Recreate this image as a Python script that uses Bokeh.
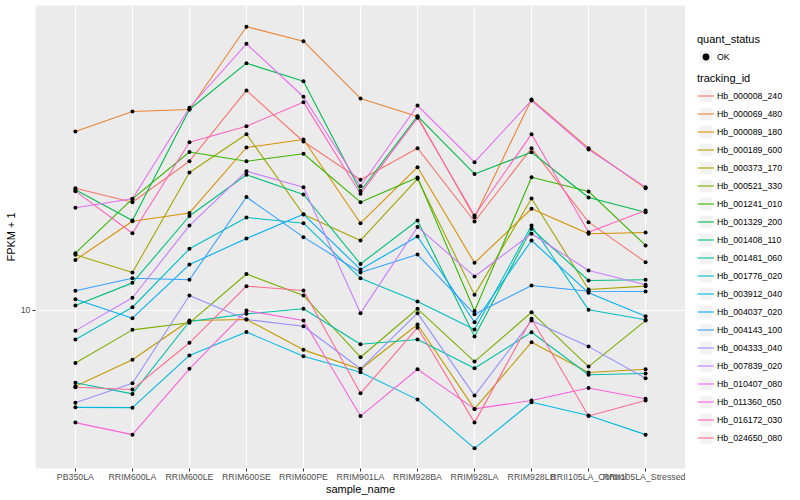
from bokeh.plotting import figure
from bokeh.layouts import row
from bokeh.models import (FactorRange, Range1d, FixedTicker, BasicTickFormatter,
                          Legend, LegendItem)
from bokeh.embed import file_html
from bokeh.resources import INLINE

samples = ["PB350LA", "RRIM600LA", "RRIM600LE", "RRIM600SE", "RRIM600PE",
           "RRIM901LA", "RRIM928BA", "RRIM928LA", "RRIM928LB",
           "RRII105LA_Control", "RRII105LA_Stressed"]

tracking_ids = ["Hb_000008_240", "Hb_000069_480", "Hb_000089_180", "Hb_000189_600",
                "Hb_000373_170", "Hb_000521_330", "Hb_001241_010", "Hb_001329_200",
                "Hb_001408_110", "Hb_001481_060", "Hb_001776_020", "Hb_003912_040",
                "Hb_004037_020", "Hb_004143_100", "Hb_004333_040", "Hb_007839_020",
                "Hb_010407_080", "Hb_011360_050", "Hb_016172_030", "Hb_024650_080"]

hb_000008_240 = [20.16, 18.60, 23.55, 35.39, 26.38, 21.16, 25.38, 16.64, 25.38, 16.58, 13.17]
hb_000069_480 = [27.95, 31.36, 31.72, 51.05, 46.99, 33.80, 30.46, 17.06, 33.60, 25.38, 20.16]
hb_000089_180 = [13.34, 16.67, 17.48, 25.48, 26.68, 16.48, 22.75, 13.12, 17.91, 15.51, 15.62]
hb_000189_600 = [6.45, 7.51, 9.41, 9.47, 7.95, 7.11, 9.20, 5.66, 8.31, 6.98, 7.11]
hb_000373_170 = [13.74, 12.41, 22.07, 27.51, 17.33, 14.92, 21.28, 10.91, 19.00, 11.25, 11.47]
hb_000521_330 = [7.37, 8.92, 9.29, 12.30, 10.87, 7.62, 10.07, 7.43, 9.87, 7.22, 9.41]
hb_001241_010 = [13.87, 18.95, 24.83, 23.55, 24.58, 18.60, 21.44, 9.94, 21.48, 19.78, 14.50]
hb_001329_200 = [19.98, 16.74, 31.71, 41.40, 37.33, 19.84, 30.51, 21.88, 24.80, 19.11, 17.56]
hb_001408_110 = [10.26, 11.69, 17.18, 21.78, 19.44, 13.03, 16.74, 8.59, 15.96, 11.85, 11.90]
hb_001481_060 = [6.58, 6.17, 9.36, 9.78, 10.07, 8.21, 8.44, 7.15, 8.80, 6.89, 6.94]
hb_001776_020 = [8.44, 10.16, 14.22, 17.03, 16.48, 12.01, 10.50, 8.94, 16.26, 10.01, 9.45]
hb_003912_040 = [5.71, 5.70, 7.70, 8.81, 7.66, 6.99, 5.97, 4.51, 5.88, 5.45, 4.88]
hb_004037_020 = [10.64, 9.54, 12.99, 15.09, 17.35, 12.63, 15.27, 9.32, 14.92, 11.04, 9.65]
hb_004143_100 = [11.17, 12.01, 11.90, 19.16, 15.21, 12.41, 13.76, 9.76, 11.51, 11.14, 11.12]
hb_004333_040 = [5.86, 6.56, 10.87, 9.47, 9.11, 7.13, 9.82, 6.11, 9.41, 8.10, 6.75]
hb_007839_020 = [8.88, 10.73, 16.26, 22.23, 20.28, 9.82, 16.13, 12.13, 15.51, 12.55, 11.56]
hb_010407_080 = [18.01, 18.97, 32.03, 46.29, 34.12, 20.39, 32.45, 23.42, 33.40, 25.19, 20.28]
hb_011360_050 = [5.23, 4.88, 7.13, 9.97, 9.41, 5.43, 7.11, 5.66, 5.94, 6.38, 6.00]
hb_016172_030 = [19.82, 15.56, 26.27, 28.81, 33.08, 19.52, 30.23, 17.23, 27.51, 15.65, 17.73]
hb_024650_080 = [6.41, 6.33, 8.28, 11.47, 11.19, 6.19, 9.03, 5.23, 9.51, 5.43, 5.94]

series_values = [hb_000008_240, hb_000069_480, hb_000089_180, hb_000189_600,
                 hb_000373_170, hb_000521_330, hb_001241_010, hb_001329_200,
                 hb_001408_110, hb_001481_060, hb_001776_020, hb_003912_040,
                 hb_004037_020, hb_004143_100, hb_004333_040, hb_007839_020,
                 hb_010407_080, hb_011360_050, hb_016172_030, hb_024650_080]

palette = ["#F8766D", "#EA8331", "#D89000", "#C09B00", "#A3A500", "#7CAE00",
           "#39B600", "#00BB4E", "#00BF7D", "#00C1A3", "#00BFC4", "#00BAE0",
           "#00B0F6", "#35A2FF", "#9590FF", "#C77CFF", "#E76BF3", "#FA62DB",
           "#FF62BC", "#FF6C91"]

quant_status = ["OK"]
y_ticks = [10]
y_limits = (4.016, 57.70)

FONT = "Liberation Sans"

# ---------------- main panel ----------------
p = figure(width=685, height=500,
           x_range=FactorRange(factors=samples, range_padding=0.2,
                               range_padding_units="absolute"),
           y_axis_type="log", y_range=Range1d(*y_limits),
           output_backend="svg", toolbar_location=None,
           min_border_left=35, min_border_right=0,
           min_border_top=5, min_border_bottom=32)
p.background_fill_color = "#EBEBEB"
p.border_fill_color = "white"
p.outline_line_color = None

for vals, col in zip(series_values, palette):
    p.line(x=samples, y=vals, line_color=col, line_width=1.1)

all_x = [s for vals in series_values for s in samples]
all_y = [v for vals in series_values for v in vals]
p.scatter(x=all_x, y=all_y, size=4, marker="circle",
          fill_color="black", line_color=None)

p.xaxis.axis_label = "sample_name"
p.yaxis.axis_label = "FPKM + 1"
for ax in (p.xaxis[0], p.yaxis[0]):
    ax.axis_line_color = None
    ax.major_tick_line_color = "#333333"
    ax.major_tick_out = 3
    ax.major_tick_in = 0
    ax.minor_tick_line_color = None
    ax.major_label_text_font = FONT
    ax.major_label_text_font_size = "8.8px"
    ax.major_label_text_color = "#4D4D4D"
    ax.axis_label_text_font = FONT
    ax.axis_label_text_font_size = "11px"
    ax.axis_label_text_font_style = "normal"
    ax.axis_label_text_color = "black"
p.xaxis.major_label_standoff = 0
p.xaxis.axis_label_standoff = -2
p.yaxis.major_label_standoff = 2
p.yaxis.axis_label_standoff = 1
p.yaxis.ticker = FixedTicker(ticks=y_ticks, minor_ticks=[])
p.yaxis.formatter = BasicTickFormatter()

p.xgrid.grid_line_color = "white"
p.xgrid.grid_line_width = 1.1
p.ygrid.ticker = FixedTicker(ticks=y_ticks, minor_ticks=[])
p.ygrid.grid_line_color = "white"
p.ygrid.grid_line_width = 1.1

# ---------------- legend panel ----------------
lg = figure(width=115, height=500, x_range=Range1d(0, 1), y_range=Range1d(0, 1),
            output_backend="svg", toolbar_location=None,
            x_axis_location=None, y_axis_location=None,
            min_border_left=0, min_border_right=0,
            min_border_top=0, min_border_bottom=0)
lg.outline_line_color = None
lg.background_fill_color = "white"
lg.border_fill_color = "white"
lg.grid.visible = False

# key renderers: one point each, placed outside the visible range of this panel
off = [5]
key_bg = lg.rect(x=off, y=off, width=1, height=1, fill_color="#F2F2F2",
                 line_color="white", line_width=1)
ok_pt = lg.scatter(x=off, y=off, marker="circle", size=4,
                   fill_color="black", line_color=None)
key_lines = [lg.line(x=[5, 6], y=[5, 6], line_color=col, line_width=1.1)
             for col in palette]


def style_legend(leg):
    leg.padding = 0
    leg.margin = 0
    leg.spacing = 1
    leg.glyph_width = 17
    leg.glyph_height = 17
    leg.label_height = 17
    leg.label_standoff = 3
    leg.label_text_font = FONT
    leg.label_text_font_size = "8.8px"
    leg.label_text_color = "black"
    leg.title_text_font = FONT
    leg.title_text_font_size = "11px"
    leg.title_text_font_style = "normal"
    leg.title_text_color = "black"
    leg.title_standoff = 3
    leg.border_line_color = None
    leg.background_fill_alpha = 0
    leg.click_policy = "none"


leg1 = Legend(items=[LegendItem(label=quant_status[0], renderers=[key_bg, ok_pt])],
              title="quant_status", location=(12, 403))
leg2 = Legend(items=[LegendItem(label=n, renderers=[key_bg, r])
                     for n, r in zip(tracking_ids, key_lines)],
              title="tracking_id", location=(12, 22))
style_legend(leg1)
style_legend(leg2)
lg.add_layout(leg1)
lg.add_layout(leg2)

layout = row(p, lg)
open("out.html", "w").write(file_html(layout, INLINE))
